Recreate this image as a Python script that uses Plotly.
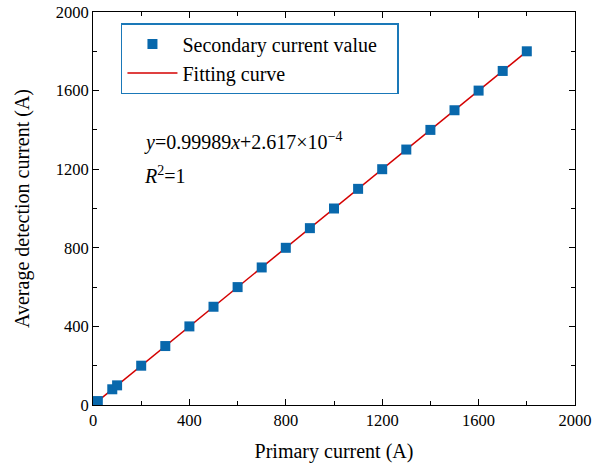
import plotly.graph_objects as go

primary = [20, 80, 100, 200, 300, 400, 500, 600, 700, 800, 900, 1000,
           1100, 1200, 1300, 1400, 1500, 1600, 1700, 1800]
secondary = [20, 80, 100, 200, 300, 400, 500, 600, 700, 800, 900, 1000,
             1100, 1200, 1300, 1400, 1500, 1600, 1700, 1800]
slope = 0.99989
intercept = 2.617e-4
fit_x = [primary[0], primary[-1]]
fit_y = [slope * v + intercept for v in fit_x]

font = "Liberation Serif, Times New Roman, serif"

fig = go.Figure()
fig.add_trace(go.Scatter(x=fit_x, y=fit_y, mode="lines", name="Fitting curve",
                         line=dict(color="#d40000", width=1.5)))
fig.add_trace(go.Scatter(x=primary, y=secondary, mode="markers",
                         name="Secondary current value\u00a0\u00a0\u00a0",
                         marker=dict(symbol="square", size=10, color="#0868ac",
                                     line=dict(width=0))))

axis_common = dict(
    showgrid=False, zeroline=False, showline=True, linecolor="black", linewidth=1,
    mirror="ticks", ticks="inside", ticklen=6, tickcolor="black",
    tickfont=dict(family=font, size=16.5, color="black"),
    range=[0, 2000], dtick=400, tick0=0, automargin=False,
    minor=dict(ticks="inside", ticklen=4, dtick=200, tickcolor="black", showgrid=False),
)

fig.update_xaxes(**axis_common,
                 title=dict(text="Primary current (A)", font=dict(family=font, size=20, color="black"),
                            standoff=15))
fig.update_yaxes(**axis_common,
                 title=dict(text="Average detection current (A)", font=dict(family=font, size=20, color="black"),
                            standoff=20))

fig.add_annotation(x=0.102, y=0.67, xref="paper", yref="paper", xanchor="left", yanchor="middle",
                   showarrow=False,
                   text="<i>y</i>=0.99989<i>x</i>+2.617×10<sup>−4</sup>",
                   font=dict(family=font, size=20, color="black"))
fig.add_annotation(x=0.102, y=0.585, xref="paper", yref="paper", xanchor="left", yanchor="middle",
                   showarrow=False,
                   text="<i>R</i><sup>2</sup>=1",
                   font=dict(family=font, size=20, color="black"))

fig.update_layout(
    width=606, height=466,
    margin=dict(l=93, r=31, t=12, b=61, autoexpand=False),
    plot_bgcolor="white", paper_bgcolor="white",
    showlegend=True,
    legend=dict(x=0.058, y=0.972, xanchor="left", yanchor="top",
                bordercolor="#1a78b8", borderwidth=1.5, bgcolor="white",
                traceorder="reversed",
                font=dict(family=font, size=20, color="black"),
                itemwidth=50),
)

fig.write_html("out.html", config={"displayModeBar": False},
               post_script="document.body.style.margin='0px';")
